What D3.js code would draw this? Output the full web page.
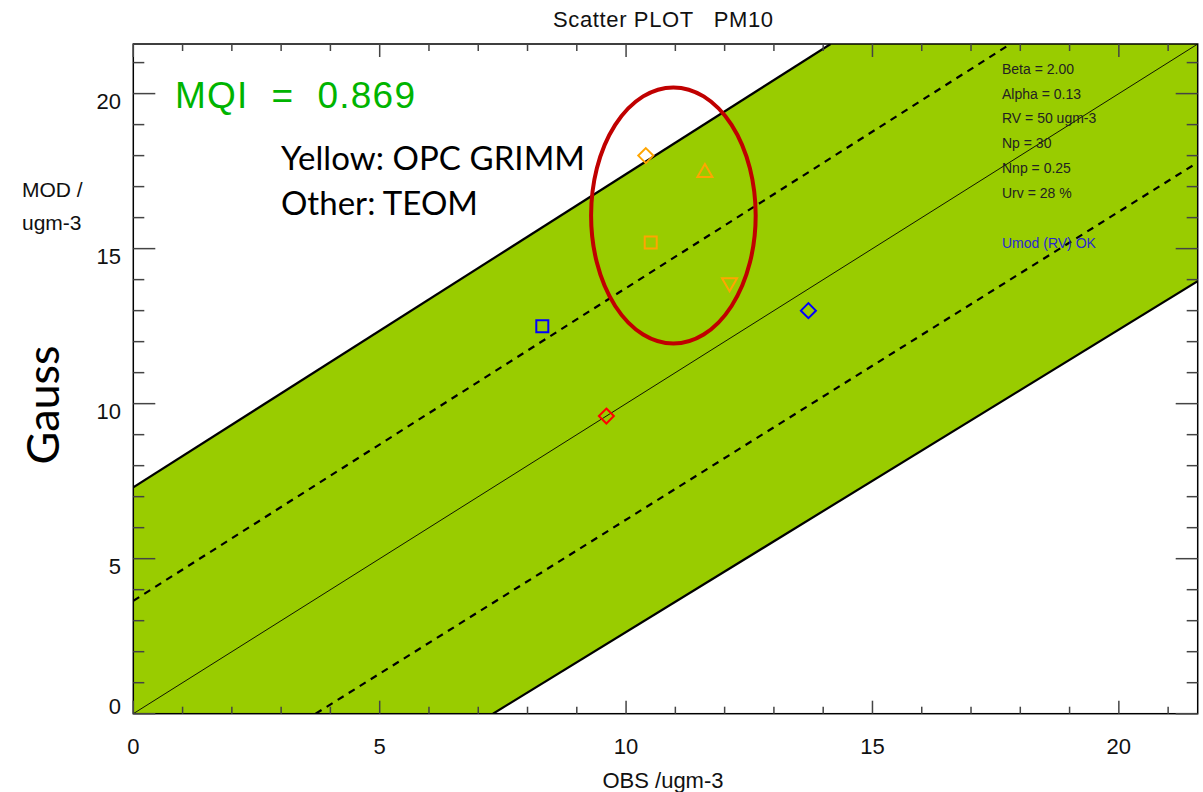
<!DOCTYPE html>
<html>
<head>
<meta charset="utf-8">
<script src="https://cdn.jsdelivr.net/npm/d3@7"></script>
<style>
  html, body { margin: 0; padding: 0; background: #fff; }
  svg { display: block; }
  text { font-family: "Liberation Sans", Arial, sans-serif; }
</style>
</head>
<body>
<svg id="chart" width="1203" height="792"></svg>
<script>
// ---- data ----
const xTicks = [0, 5, 10, 15, 20];
const yTicks = [0, 5, 10, 15, 20];
const minorTicks = d3.range(0, 22, 1);
const axisMax = 21.6;

// limit lines (data units)
const upperLimit = [[0, 7.3], [14.15, 21.6]];
const lowerLimit = [[7.3, 0], [21.6, 13.95]];
const upperDash = [[0, 3.64], [17.8, 21.6]];
const lowerDash = [[3.7, 0], [21.6, 17.78]];
const identityLine = [[0, 0], [21.6, 21.6]];

// points
const obsOPC = [10.4, 11.6, 10.5, 12.1];
const modOPC = [18.0, 17.5, 15.2, 13.85];
const symOPC = ["diamond", "triUp", "square", "triDown"];
const colOPC = ["#FFA500", "#FFA500", "#FFA500", "#FFA500"];

const obsTEOM = [8.3, 13.7, 9.6];
const modTEOM = [12.5, 13.0, 9.6];
const symTEOM = ["square", "diamond", "diamond"];
const colTEOM = ["#0000FF", "#0000FF", "#FF0000"];

const statLabels = ["Beta = 2.00", "Alpha = 0.13", "RV = 50 ugm-3", "Np = 30", "Nnp = 0.25", "Urv = 28 %"];
const statusLabel = "Umod (RV) OK";
const mqiLabel = "MQI  =  0.869";
const titleLabel = "Scatter PLOT   PM10";

// annotation ellipse (data units)
const ellipse = { cx: 10.96, cy: 16.07, rx: 1.67, ry: 4.13 };

// ---- layout ----
const svg = d3.select("#chart");
const L = 133.3, R = 1197.7, T = 44, B = 713.7;
const x = d3.scaleLinear().domain([0, axisMax]).range([L, R]);
const y = d3.scaleLinear().domain([0, axisMax]).range([B, T]);

svg.append("defs").append("clipPath").attr("id", "clip")
  .append("rect").attr("x", L).attr("y", T).attr("width", R - L).attr("height", B - T);

const plot = svg.append("g").attr("clip-path", "url(#clip)");

// band polygon
const poly = [[0, 0], upperLimit[0], upperLimit[1], [axisMax, axisMax], lowerLimit[1], lowerLimit[0]];
plot.append("path")
  .attr("d", d3.line().x(d => x(d[0])).y(d => y(d[1]))(poly) + "Z")
  .attr("fill", "#99CC00");

const line = d3.line().x(d => x(d[0])).y(d => y(d[1]));
[upperLimit, lowerLimit].forEach(l => plot.append("path").attr("d", line(l))
  .attr("stroke", "#000").attr("stroke-width", 2.2).attr("fill", "none"));
[upperDash, lowerDash].forEach(l => plot.append("path").attr("d", line(l))
  .attr("stroke", "#000").attr("stroke-width", 2.2).attr("stroke-dasharray", "7,6").attr("fill", "none"));
plot.append("path").attr("d", line(identityLine)).attr("stroke", "#000").attr("stroke-width", 0.9).attr("fill", "none");

// stats text
const stats = svg.append("g");
statLabels.forEach((s, i) => {
  stats.append("text").attr("x", 1002).attr("y", 74 + i * 24.7).attr("font-size", 14)
    .attr("fill", "#222").text(s);
});
stats.append("text").attr("x", 1002).attr("y", 247.5).attr("font-size", 14)
  .attr("fill", "#2828D0").text(statusLabel);

// markers
function marker(g, type, cx, cy, color) {
  let d;
  if (type === "square") d = `M${cx-6},${cy-6}h12v12h-12Z`;
  else if (type === "diamond") d = `M${cx},${cy-7.5}L${cx+7.5},${cy}L${cx},${cy+7.5}L${cx-7.5},${cy}Z`;
  else if (type === "triUp") d = `M${cx},${cy-7}L${cx+7.5},${cy+6}L${cx-7.5},${cy+6}Z`;
  else d = `M${cx-7.5},${cy-6}L${cx+7.5},${cy-6}L${cx},${cy+7}Z`;
  g.append("path").attr("d", d).attr("fill", "none").attr("stroke", color).attr("stroke-width", 2);
}
const mk = svg.append("g");
obsOPC.forEach((o, i) => marker(mk, symOPC[i], x(o), y(modOPC[i]), colOPC[i]));
obsTEOM.forEach((o, i) => marker(mk, symTEOM[i], x(o), y(modTEOM[i]), colTEOM[i]));

// ellipse
svg.append("ellipse")
  .attr("cx", x(ellipse.cx)).attr("cy", y(ellipse.cy))
  .attr("rx", x(ellipse.rx) - x(0)).attr("ry", y(0) - y(ellipse.ry))
  .attr("fill", "none").attr("stroke", "#C00000").attr("stroke-width", 4);

// frame
svg.append("rect").attr("x", L).attr("y", T).attr("width", R - L).attr("height", B - T)
  .attr("fill", "none").attr("stroke", "#000").attr("stroke-width", 1.5);

// axes ticks (IDL style, inside all four sides)
const tickCol = "#444";
const ax = svg.append("g");
minorTicks.forEach(v => {
  const major = xTicks.includes(v);
  const lx = major ? 13 : 7;
  const ly = major ? 22 : 11;
  ax.append("line").attr("x1", x(v)).attr("x2", x(v)).attr("y1", B).attr("y2", B - lx).attr("stroke", tickCol).attr("stroke-width", 1.5);
  ax.append("line").attr("x1", x(v)).attr("x2", x(v)).attr("y1", T).attr("y2", T + lx).attr("stroke", tickCol).attr("stroke-width", 1.5);
  ax.append("line").attr("y1", y(v)).attr("y2", y(v)).attr("x1", L).attr("x2", L + ly).attr("stroke", tickCol).attr("stroke-width", 1.5);
  ax.append("line").attr("y1", y(v)).attr("y2", y(v)).attr("x1", R).attr("x2", R - ly).attr("stroke", tickCol).attr("stroke-width", 1.5);
});
xTicks.forEach(v => {
  ax.append("text").attr("x", x(v)).attr("y", 754).attr("text-anchor", "middle").attr("font-size", 22).attr("fill", "#111").text(v);
});
yTicks.forEach(v => {
  ax.append("text").attr("x", 121).attr("y", y(v) + (v === 0 ? 0 : 15)).attr("text-anchor", "end").attr("font-size", 22).attr("fill", "#111").text(v);
});

// titles
svg.append("text").attr("x", 663).attr("y", 27).attr("text-anchor", "middle").attr("font-size", 22)
  .style("white-space", "pre").attr("textLength", 220).attr("lengthAdjust", "spacing")
  .attr("fill", "#111").text(titleLabel);
svg.append("text").attr("x", 663).attr("y", 788).attr("text-anchor", "middle").attr("font-size", 22)
  .attr("fill", "#111").text("OBS /ugm-3");
svg.append("text").attr("x", 22).attr("y", 197).attr("font-size", 21).attr("fill", "#111").text("MOD /");
svg.append("text").attr("x", 22).attr("y", 230).attr("font-size", 21).attr("fill", "#111").text("ugm-3");

svg.append("text").attr("x", 175).attr("y", 108).attr("font-size", 37).attr("fill", "#00B400")
  .style("white-space", "pre").attr("textLength", 240).attr("lengthAdjust", "spacing").text(mqiLabel);

svg.append("text").attr("x", 281).attr("y", 170).attr("font-size", 33).attr("fill", "#000")
  .attr("textLength", 304).attr("lengthAdjust", "spacing")
  .style("font-family", "Lato, 'Open Sans', sans-serif").text("Yellow: OPC GRIMM");
svg.append("text").attr("x", 281).attr("y", 215).attr("font-size", 33).attr("fill", "#000")
  .attr("textLength", 197).attr("lengthAdjust", "spacing")
  .style("font-family", "Lato, 'Open Sans', sans-serif").text("Other: TEOM");

svg.append("text").attr("transform", "translate(59,405) rotate(-90)").attr("text-anchor", "middle")
  .attr("font-size", 45).attr("fill", "#000").style("font-family", "Lato, 'Open Sans', sans-serif").text("Gauss");
</script>
</body>
</html>
